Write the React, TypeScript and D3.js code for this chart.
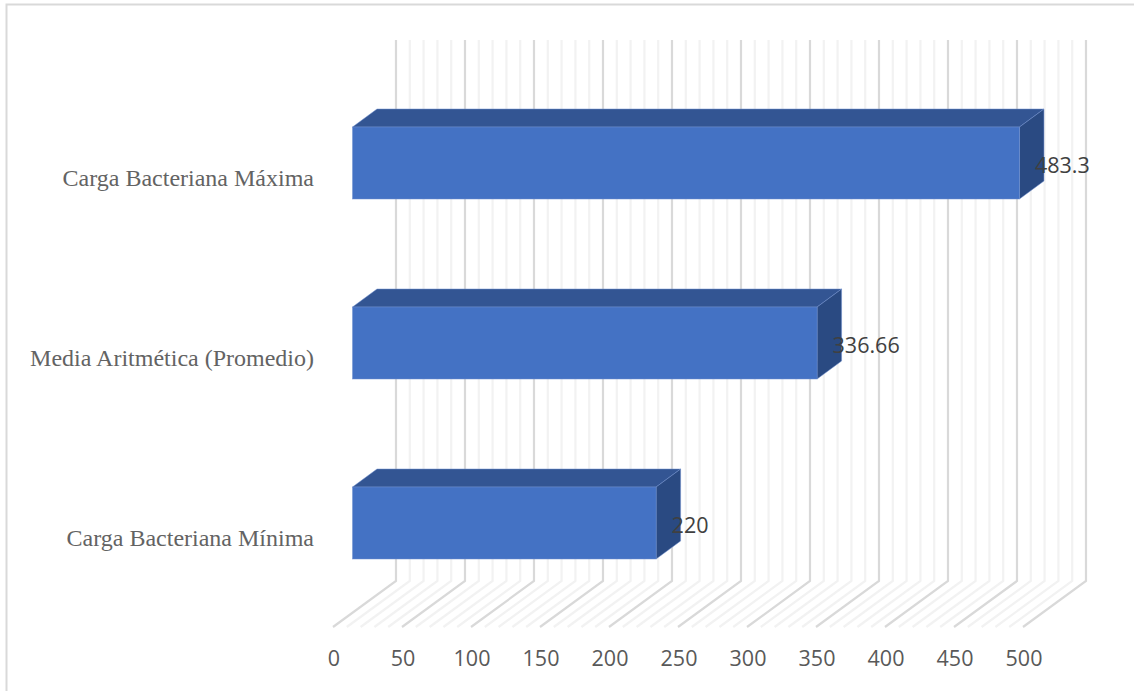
import React from "react";
import * as d3 from "d3";

const categories = ["Carga Bacteriana Máxima", "Media Aritmética (Promedio)", "Carga Bacteriana Mínima"];
const values = [483.3, 336.66, 220];
const valueLabels = ["483.3", "336.66", "220"];
const majorTicks = [0, 50, 100, 150, 200, 250, 300, 350, 400, 450, 500];
const minorTicks = d3.range(0, 501, 10).filter((t) => t % 50 !== 0);

const W = 1134;
const H = 691;

// Oblique projection of the 3D box: floor front edge, back wall, and the bar slab between them.
const xFront = d3.scaleLinear().domain([0, 500]).range([333, 1023]);
const depthX = 63;
const depthY = -46;
const floorY = 627;
const wallTop = 40;
const barShiftX = 19.5;
const barDepthX = 24.5;
const barDepthY = -18;

const yBand = d3.scaleBand().domain(categories).range([73, 613]).paddingInner(0.6).paddingOuter(0.3);

function GridLine({ t, color }: { t: number; color: string }) {
  const x = xFront(t);
  const path = d3.line()([
    [x, floorY],
    [x + depthX, floorY + depthY],
    [x + depthX, wallTop],
  ]);
  return <path d={path ?? ""} fill="none" stroke={color} strokeWidth={2.2} />;
}

export default function App() {
  return (
    <svg
      width={W}
      height={H}
      viewBox={`0 0 ${W} ${H}`}
      style={{ position: "absolute", left: 0, top: 0, background: "#fff" }}
    >
      <rect x={6.5} y={4.5} width={W} height={H} fill="#fff" stroke="#d9d9d9" strokeWidth={2} />
      {minorTicks.map((t) => (
        <GridLine key={t} t={t} color="#f2f2f2" />
      ))}
      {majorTicks.map((t) => (
        <GridLine key={t} t={t} color="#d9d9d9" />
      ))}
      {categories.map((c, i) => {
        const x0 = xFront(0) + barShiftX;
        const x1 = xFront(values[i]) + barShiftX;
        const y0 = yBand(c) ?? 0;
        const h = yBand.bandwidth();
        const poly = (pts: [number, number][]) => pts.map((p) => p.join(",")).join(" ");
        return (
          <g key={c}>
            <polygon
              points={poly([
                [x0, y0],
                [x0 + barDepthX, y0 + barDepthY],
                [x1 + barDepthX, y0 + barDepthY],
                [x1, y0],
              ])}
              fill="#335593"
              stroke="#6f8fcf"
              strokeWidth={0.5}
            />
            <polygon
              points={poly([
                [x1, y0],
                [x1 + barDepthX, y0 + barDepthY],
                [x1 + barDepthX, y0 + h + barDepthY],
                [x1, y0 + h],
              ])}
              fill="#2a4a82"
              stroke="#6f8fcf"
              strokeWidth={0.5}
            />
            <rect x={x0} y={y0} width={x1 - x0} height={h} fill="#4472c4" stroke="#6f8fcf" strokeWidth={0.5} />
            <text
              x={314}
              y={y0 + 59}
              textAnchor="end"
              fontFamily="'Liberation Serif', serif"
              fontSize={24}
              fill="#636363"
            >
              {c}
            </text>
            <text
              x={x1 + barDepthX - 9}
              y={y0 + 45.5}
              textAnchor="start"
              fontFamily="'Open Sans', sans-serif"
              fontSize={21.5}
              fill="#404040"
            >
              {valueLabels[i]}
            </text>
          </g>
        );
      })}
      {majorTicks.map((t) => (
        <text
          key={t}
          x={xFront(t) + 1}
          y={666}
          textAnchor="middle"
          fontFamily="'Open Sans', sans-serif"
          fontSize={21.5}
          fill="#595959"
        >
          {t}
        </text>
      ))}
    </svg>
  );
}
